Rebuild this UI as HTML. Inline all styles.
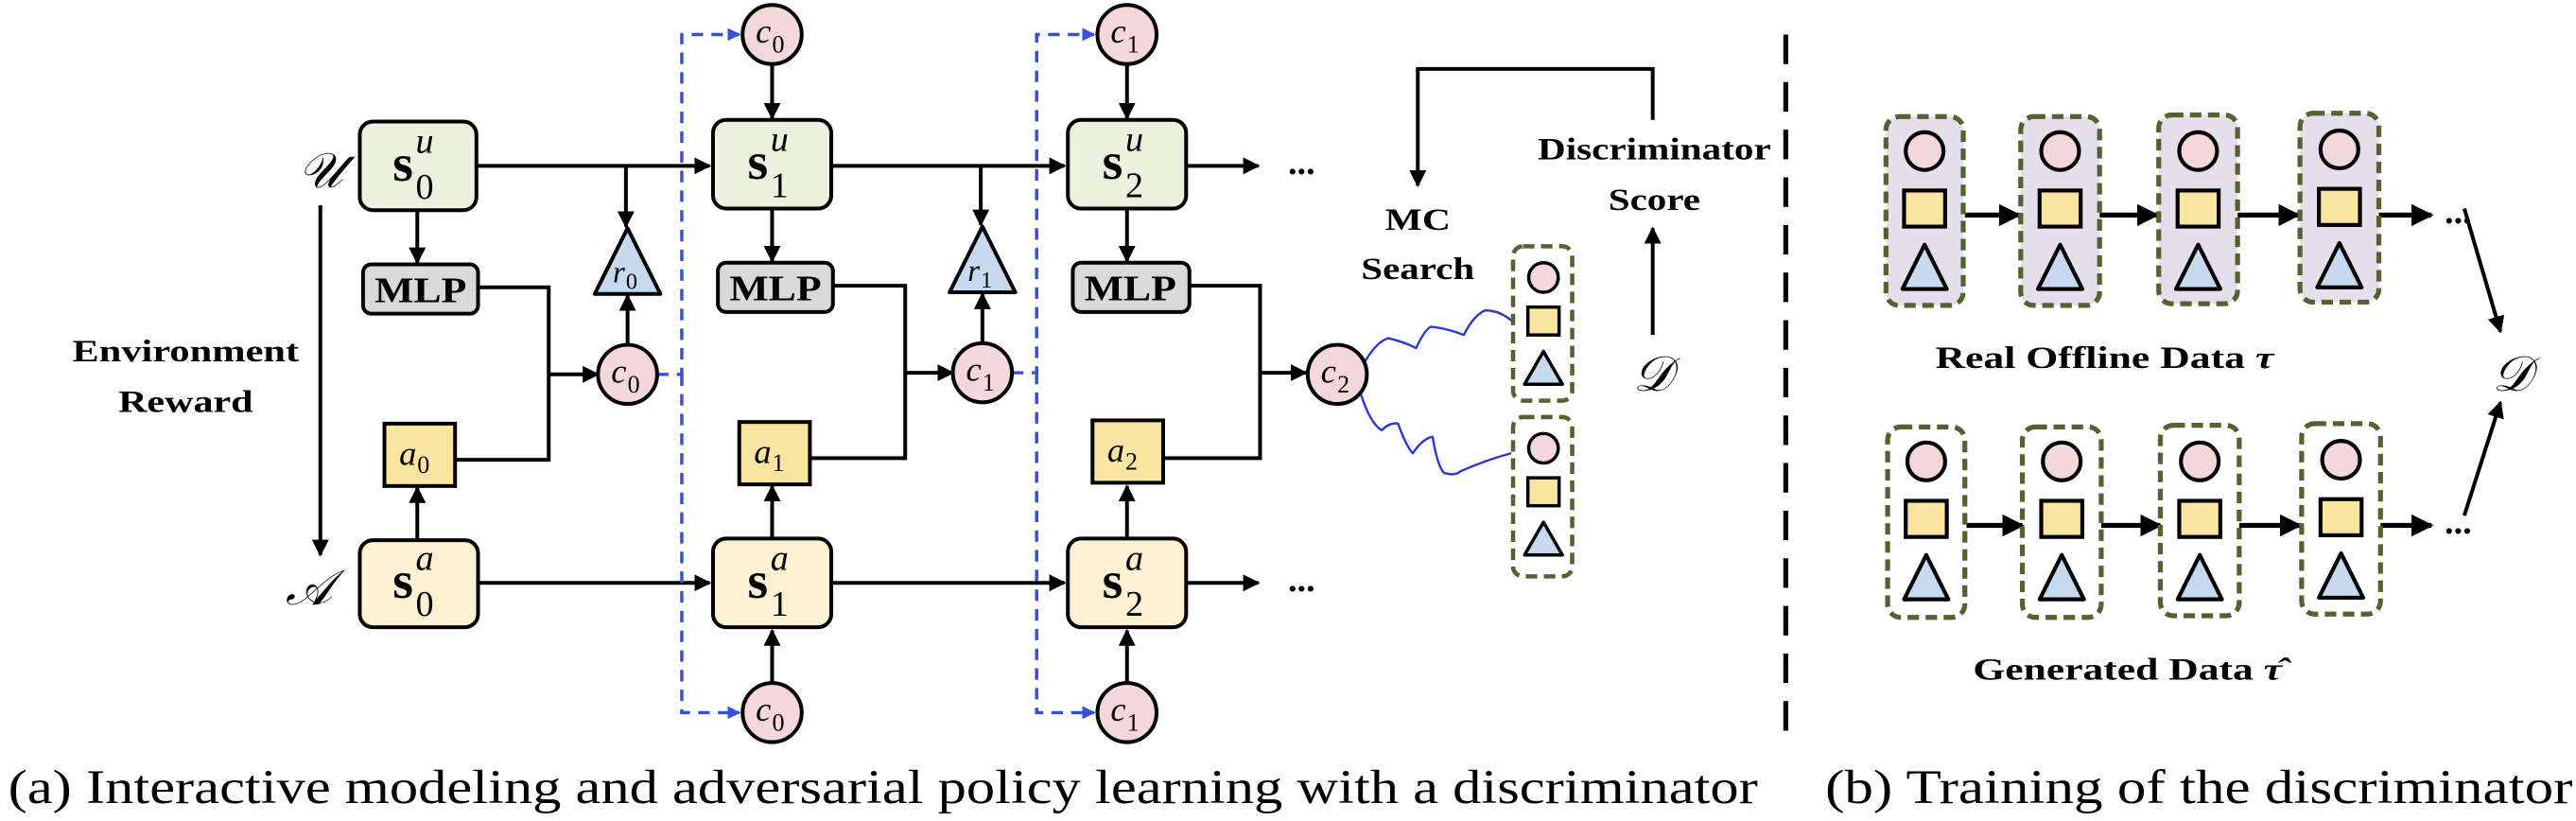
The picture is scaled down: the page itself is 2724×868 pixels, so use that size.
<!DOCTYPE html>
<html><head><meta charset="utf-8"><style>
html,body{margin:0;padding:0;background:#fff;}
svg{display:block;}
text{font-family:"Liberation Serif","DejaVu Serif",serif;}
.lb{font-family:"Liberation Serif",serif;font-weight:bold;}
.mi{font-family:"Liberation Serif",serif;font-style:italic;}
.rm{font-family:"Liberation Serif",serif;font-style:normal;font-weight:normal;}
.scr{font-family:"DejaVu Serif",serif;font-style:italic;}
</style></head><body>
<svg width="2724" height="868" viewBox="0 0 1568 500" preserveAspectRatio="none" xmlns="http://www.w3.org/2000/svg">
<defs>
<marker id="ah" viewBox="0 0 10 10" refX="9" refY="5" markerWidth="4.5" markerHeight="4.5" markerUnits="strokeWidth" orient="auto"><path d="M0,0L10,5L0,10z" fill="#000"/></marker>
<marker id="bh" viewBox="0 0 10 10" refX="9" refY="5" markerWidth="4" markerHeight="4" markerUnits="strokeWidth" orient="auto"><path d="M0,0L10,5L0,10z" fill="#3b4fd6"/></marker>
<g id="stk">
<circle cx="0" cy="0" r="11.5" fill="#f4d7d9" stroke="#000" stroke-width="2.4"/>
<rect x="-12.5" y="24" width="25" height="22" fill="#f9e4a0" stroke="#000" stroke-width="2.4"/>
<path d="M0,57 L13.5,84 L-13.5,84z" fill="#c7d9ee" stroke="#000" stroke-width="2.4" stroke-linejoin="round"/>
</g>
<g id="sstk">
<circle cx="0" cy="0" r="9" fill="#f4d7d9" stroke="#000" stroke-width="2"/>
<rect x="-9.5" y="18" width="19" height="17" fill="#f9e4a0" stroke="#000" stroke-width="2"/>
<path d="M0,45 L11.5,65 L-11.5,65z" fill="#c7d9ee" stroke="#000" stroke-width="2" stroke-linejoin="round"/>
</g>
</defs>

<g stroke="#000" stroke-width="2.3" fill="none">
<line x1="289" y1="101" x2="432" y2="101" marker-end="url(#ah)"/>
<line x1="505" y1="101" x2="648" y2="101" marker-end="url(#ah)"/>
<line x1="721" y1="101" x2="766" y2="101" marker-end="url(#ah)"/>
<line x1="291" y1="355" x2="432" y2="355" marker-end="url(#ah)"/>
<line x1="507" y1="355" x2="648" y2="355" marker-end="url(#ah)"/>
<line x1="723" y1="355" x2="766" y2="355" marker-end="url(#ah)"/>
<line x1="195" y1="125" x2="195" y2="338" marker-end="url(#ah)"/>
<line x1="254" y1="128" x2="254" y2="160" marker-end="url(#ah)"/>
<line x1="470" y1="127" x2="470" y2="159" marker-end="url(#ah)"/>
<line x1="686" y1="127" x2="686" y2="159" marker-end="url(#ah)"/>
<line x1="254" y1="328" x2="254" y2="297" marker-end="url(#ah)"/>
<line x1="470" y1="327" x2="470" y2="296" marker-end="url(#ah)"/>
<line x1="686" y1="327" x2="686" y2="296" marker-end="url(#ah)"/>
<polyline points="291,175 334,175 334,280 277,280"/>
<polyline points="507,174 551,174 551,279 493,279"/>
<polyline points="725,174 767,174 767,279 708,279"/>
<line x1="334" y1="228" x2="364" y2="228" marker-end="url(#ah)"/>
<line x1="551" y1="227" x2="580" y2="227" marker-end="url(#ah)"/>
<line x1="767" y1="227" x2="795" y2="227" marker-end="url(#ah)"/>
<line x1="381" y1="101" x2="381" y2="138" marker-end="url(#ah)"/>
<line x1="597" y1="101" x2="597" y2="137" marker-end="url(#ah)"/>
<line x1="382" y1="210" x2="382" y2="180" marker-end="url(#ah)"/>
<line x1="598" y1="209" x2="598" y2="179" marker-end="url(#ah)"/>
<line x1="470" y1="39" x2="470" y2="72" marker-end="url(#ah)"/>
<line x1="686" y1="39" x2="686" y2="72" marker-end="url(#ah)"/>
<line x1="470" y1="416" x2="470" y2="384" marker-end="url(#ah)"/>
<line x1="686" y1="416" x2="686" y2="384" marker-end="url(#ah)"/>
<polyline points="1006,73 1006,42 863,42 863,113" marker-end="url(#ah)"/>
<line x1="1006" y1="204" x2="1006" y2="139" marker-end="url(#ah)"/>
<line x1="1196" y1="131" x2="1229" y2="131" stroke-width="3" marker-end="url(#ah)"/>
<line x1="1278" y1="131" x2="1313" y2="131" stroke-width="3" marker-end="url(#ah)"/>
<line x1="1362" y1="131" x2="1399" y2="131" stroke-width="3" marker-end="url(#ah)"/>
<line x1="1448" y1="131" x2="1480" y2="131" stroke-width="3" marker-end="url(#ah)"/>
<line x1="1197" y1="320" x2="1231" y2="320" stroke-width="3" marker-end="url(#ah)"/>
<line x1="1279" y1="320" x2="1315" y2="320" stroke-width="3" marker-end="url(#ah)"/>
<line x1="1363" y1="320" x2="1400" y2="320" stroke-width="3" marker-end="url(#ah)"/>
<line x1="1449" y1="320" x2="1480" y2="320" stroke-width="3" marker-end="url(#ah)"/>
<line x1="1500" y1="127" x2="1522" y2="202" marker-end="url(#ah)"/>
<line x1="1500" y1="314" x2="1522" y2="245" marker-end="url(#ah)"/>
</g>

<g stroke="#3b4fd6" stroke-width="2" fill="none" stroke-dasharray="7,5">
<polyline points="400,228 415,228 415,21 450,21" marker-end="url(#bh)"/>
<polyline points="415,228 415,434 450,434" marker-end="url(#bh)"/>
<polyline points="616,227 631,227 631,21 666,21" marker-end="url(#bh)"/>
<polyline points="631,227 631,434 666,434" marker-end="url(#bh)"/>
</g>
<g stroke="#2a3ad0" stroke-width="1.4" fill="none" stroke-linejoin="round">
<path d="M831,220 Q838,208 845,206 Q854,208 862,212 Q867,201 871,199 Q881,200 891,204 Q897,192 904,189 Q913,189 921,196"/>
<path d="M828,239 Q834,258 841,262 Q846,257 851,258 Q856,272 860,276 Q866,267 872,266 Q875,284 879,288 Q886,290 889,287 Q905,280 920,276"/>
</g>

<line x1="1087" y1="21" x2="1087" y2="447" stroke="#000" stroke-width="3" stroke-dasharray="18,11"/>

<g stroke="#000" stroke-width="2.3">
<rect x="219" y="74" width="71" height="54" rx="8" fill="#ecf0df"/>
<rect x="434" y="73" width="72" height="54" rx="8" fill="#ecf0df"/>
<rect x="650" y="73" width="72" height="54" rx="8" fill="#ecf0df"/>
<rect x="219" y="329" width="72" height="53" rx="8" fill="#fcf2d3"/>
<rect x="434" y="328" width="72" height="54" rx="8" fill="#fcf2d3"/>
<rect x="650" y="328" width="72" height="54" rx="8" fill="#fcf2d3"/>
<rect x="221" y="161" width="70" height="30" rx="5" fill="#d9d9d9"/>
<rect x="437" y="160" width="70" height="30" rx="5" fill="#d9d9d9"/>
<rect x="653" y="160" width="71" height="30" rx="5" fill="#d9d9d9"/>
<rect x="234" y="258" width="43" height="38" fill="#f9e4a0"/>
<rect x="450" y="257" width="43" height="38" fill="#f9e4a0"/>
<rect x="665" y="256" width="43" height="38" fill="#f9e4a0"/>
<path d="M382,139 L402,179 L362,179z" fill="#c7d9ee" stroke-linejoin="round"/>
<path d="M598,138 L618,178 L578,178z" fill="#c7d9ee" stroke-linejoin="round"/>
<circle cx="382" cy="228" r="18" fill="#f4d7d9"/>
<circle cx="598" cy="227" r="18" fill="#f4d7d9"/>
<circle cx="814" cy="228" r="18" fill="#f4d7d9"/>
<circle cx="470" cy="21" r="18" fill="#f4d7d9"/>
<circle cx="686" cy="21" r="18" fill="#f4d7d9"/>
<circle cx="470" cy="434" r="18" fill="#f4d7d9"/>
<circle cx="686" cy="434" r="18" fill="#f4d7d9"/>
</g>

<g fill="none" stroke="#556130" stroke-width="2.6" stroke-dasharray="7,4">
<rect x="921" y="150" width="36" height="94" rx="6"/>
<rect x="921" y="254" width="36" height="97" rx="6"/>
</g>
<use href="#sstk" x="939.5" y="169"/>
<use href="#sstk" x="939.5" y="273"/>

<g stroke="#556130" stroke-width="3" stroke-dasharray="7,4">
<rect x="1148" y="71" width="47" height="115" rx="8" fill="#e4dfeb"/>
<rect x="1230" y="71" width="48" height="115" rx="8" fill="#e4dfeb"/>
<rect x="1314" y="70" width="48" height="115" rx="8" fill="#e4dfeb"/>
<rect x="1400" y="69" width="48" height="115" rx="8" fill="#e4dfeb"/>
<rect x="1149" y="260" width="47" height="116" rx="8" fill="none"/>
<rect x="1231" y="260" width="48" height="116" rx="8" fill="none"/>
<rect x="1315" y="259" width="48" height="116" rx="8" fill="none"/>
<rect x="1401" y="258" width="48" height="116" rx="8" fill="none"/>
</g>
<use href="#stk" x="1171.5" y="92"/>
<use href="#stk" x="1254" y="92"/>
<use href="#stk" x="1338" y="92"/>
<use href="#stk" x="1424" y="91"/>
<use href="#stk" x="1172.5" y="281"/>
<use href="#stk" x="1255" y="281"/>
<use href="#stk" x="1339" y="281"/>
<use href="#stk" x="1425" y="280"/>

<g fill="#000">
<text class="lb" x="239" y="110" font-size="32">s</text><text class="mi" x="253" y="93" font-size="22">u</text><text class="rm" x="253" y="121" font-size="22">0</text>
<text class="lb" x="455" y="109" font-size="32">s</text><text class="mi" x="469" y="92" font-size="22">u</text><text class="rm" x="469" y="120" font-size="22">1</text>
<text class="lb" x="671" y="109" font-size="32">s</text><text class="mi" x="685" y="92" font-size="22">u</text><text class="rm" x="685" y="120" font-size="22">2</text>
<text class="lb" x="239" y="364" font-size="32">s</text><text class="mi" x="253" y="347" font-size="22">a</text><text class="rm" x="253" y="375" font-size="22">0</text>
<text class="lb" x="455" y="364" font-size="32">s</text><text class="mi" x="469" y="347" font-size="22">a</text><text class="rm" x="469" y="375" font-size="22">1</text>
<text class="lb" x="671" y="364" font-size="32">s</text><text class="mi" x="685" y="347" font-size="22">a</text><text class="rm" x="685" y="375" font-size="22">2</text>
</g>
<g font-size="22" text-anchor="middle">
<text class="lb" x="256" y="184" textLength="56" lengthAdjust="spacingAndGlyphs">MLP</text>
<text class="lb" x="472" y="183" textLength="56" lengthAdjust="spacingAndGlyphs">MLP</text>
<text class="lb" x="688" y="183" textLength="56" lengthAdjust="spacingAndGlyphs">MLP</text>
</g>
<g font-size="21">
<text class="mi" x="243" y="283">a</text><text class="rm" x="254" y="288" font-size="15">0</text>
<text class="mi" x="459" y="282">a</text><text class="rm" x="470" y="287" font-size="15">1</text>
<text class="mi" x="674" y="281">a</text><text class="rm" x="685" y="286" font-size="15">2</text>
<text class="mi" x="373" y="172" font-size="19">r</text><text class="rm" x="381" y="176" font-size="14">0</text>
<text class="mi" x="589" y="171" font-size="19">r</text><text class="rm" x="597" y="175" font-size="14">1</text>
<text class="mi" x="372" y="233">c</text><text class="rm" x="382" y="239" font-size="15">0</text>
<text class="mi" x="588" y="232">c</text><text class="rm" x="598" y="238" font-size="15">1</text>
<text class="mi" x="804" y="233">c</text><text class="rm" x="814" y="239" font-size="15">2</text>
<text class="mi" x="460" y="26">c</text><text class="rm" x="470" y="32" font-size="15">0</text>
<text class="mi" x="676" y="26">c</text><text class="rm" x="686" y="32" font-size="15">1</text>
<text class="mi" x="460" y="439">c</text><text class="rm" x="470" y="445" font-size="15">0</text>
<text class="mi" x="676" y="439">c</text><text class="rm" x="686" y="445" font-size="15">1</text>
</g>
<g font-size="30" text-anchor="middle">
<text class="scr" x="195" y="114">𝒰</text>
<text class="scr" x="188" y="368">𝒜</text>
<text class="scr" x="1006" y="238">𝒟</text>
<text class="scr" x="1529" y="238">𝒟</text>
</g>
<g font-size="19" text-anchor="middle">
<text class="lb" x="113" y="220" textLength="138" lengthAdjust="spacingAndGlyphs">Environment</text>
<text class="lb" x="113" y="251" textLength="82" lengthAdjust="spacingAndGlyphs">Reward</text>
<text class="lb" x="863" y="140" textLength="40" lengthAdjust="spacingAndGlyphs">MC</text>
<text class="lb" x="863" y="170" textLength="69" lengthAdjust="spacingAndGlyphs">Search</text>
<text class="lb" x="1007" y="97" textLength="142" lengthAdjust="spacingAndGlyphs">Discriminator</text>
<text class="lb" x="1007" y="128" textLength="56" lengthAdjust="spacingAndGlyphs">Score</text>
<text class="lb" x="1281" y="224" textLength="206" lengthAdjust="spacingAndGlyphs">Real Offline Data <tspan font-style="italic">τ</tspan></text>
<text class="lb" x="1295" y="414" textLength="188" lengthAdjust="spacingAndGlyphs">Generated Data <tspan font-style="italic">τ̂</tspan></text>
</g>
<g font-size="22">
<text class="lb" x="784" y="106">...</text>
<text class="lb" x="784" y="360">...</text>
<text class="lb" x="1488" y="136">...</text>
<text class="lb" x="1488" y="325">...</text>
</g>
<g font-size="29">
<text class="rm" x="5" y="489" textLength="1065" lengthAdjust="spacingAndGlyphs">(a) Interactive modeling and adversarial policy learning with a discriminator</text>
<text class="rm" x="1111" y="489" textLength="455" lengthAdjust="spacingAndGlyphs">(b) Training of the discriminator</text>
</g>
</svg>
</body></html>
